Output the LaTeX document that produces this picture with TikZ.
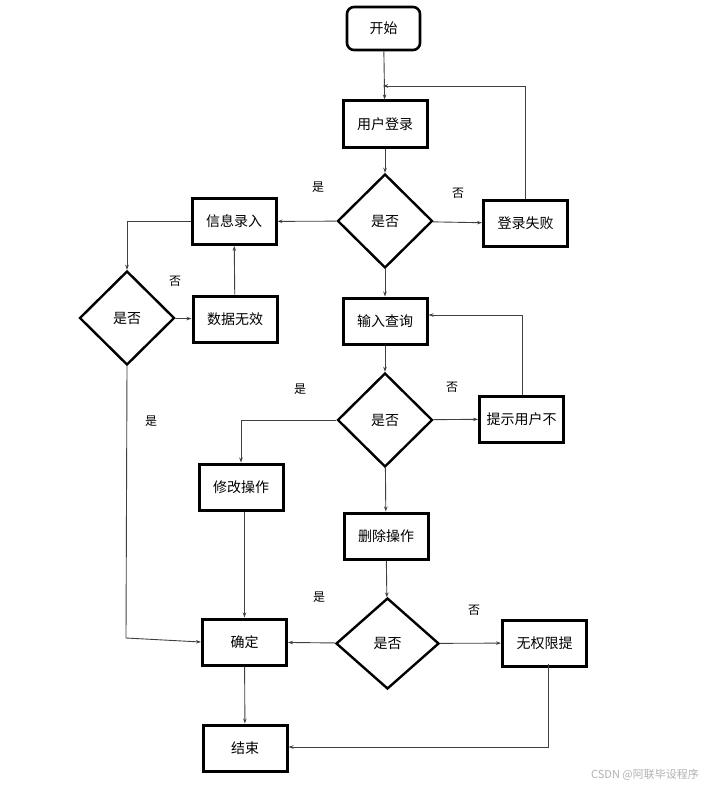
\documentclass[tikz,border=0pt]{standalone}
\usepackage{fontspec}
\newfontfamily\cjk{Noto Sans CJK SC}
\usetikzlibrary{shapes.geometric,arrows.meta}
\begin{document}
\begin{tikzpicture}[x=1pt,y=-1pt,
  every node/.style={font=\cjk\fontsize{14}{16}\selectfont},
  procbox/.style={draw,line width=3pt,minimum width=84pt,minimum height=46pt,inner sep=0pt},
  startbox/.style={draw,line width=2.6pt,rounded corners=7pt,minimum width=73pt,minimum height=43pt},
  decide/.style={draw,line width=2.4pt,diamond,aspect=1,inner sep=0pt,minimum width=95pt,minimum height=94pt},
  conn/.style={draw=black!75,line width=0.9pt,-{Stealth[length=5pt,width=3.5pt]}},
  plain/.style={draw=black!75,line width=0.9pt},
  lab/.style={font=\cjk\fontsize{12}{14}\selectfont}]
\useasboundingbox[fill=white] (0,0) rectangle (719,789);

\node[startbox] (start) at (383.5,28.5) {开始};
\node[procbox] (login) at (385,124) {用户登录};
\node[decide] (d1) at (385,221) {是否};
\node[procbox] (info) at (234,221.5) {信息录入};
\node[procbox] (fail) at (525.5,223.5) {登录失败};
\node[decide] (d2) at (127,318) {是否};
\node[procbox] (invalid) at (235,319) {数据无效};
\node[procbox] (query) at (385,321) {输入查询};
\node[decide] (d3) at (385,420) {是否};
\node[procbox] (hint) at (521.5,419) {提示用户不};
\node[procbox] (modify) at (241,487) {修改操作};
\node[procbox] (delete) at (386,536) {删除操作};
\node[decide,minimum width=103pt,minimum height=91pt] (d4) at (387.5,643.5) {是否};
\node[procbox] (confirm) at (244.5,642) {确定};
\node[procbox] (noperm) at (544.5,643) {无权限提};
\node[procbox] (finish) at (245,748) {结束};

\coordinate (j1) at (383,86);
\coordinate (j2) at (525,86);
\coordinate (q1) at (522,315);
\coordinate (c1) at (127,221.5);
\coordinate (c2) at (126,638);
\coordinate (m1) at (241,420);
\coordinate (e1) at (548,747);

% connectors
\draw[conn] (start) -- (login);
\draw[plain] (fail.north -| j2) -- (j2) ;
\draw[conn] (j2) -- (j1);
\draw[conn] (login) -- (d1);
\draw[conn] (d1) -- (info);
\draw[conn] (d1) -- (fail);
\draw[conn] (info.west) -- (c1) -- (d2.north);
\draw[conn] (d2) -- (invalid);
\draw[conn] (invalid) -- (info);
\draw[conn] (d2.south) -- (c2) -- (confirm.west);
\draw[conn] (d1) -- (query);
\draw[conn] (query) -- (d3);
\draw[conn] (d3) -- (hint);
\draw[conn] (hint.north -| q1) -- (q1) -- (query.east |- q1);
\draw[conn] (d3.west) -- (m1) -- (modify.north);
\draw[conn] (d3) -- (delete);
\draw[conn] (delete) -- (d4);
\draw[conn] (d4) -- (confirm);
\draw[conn] (d4) -- (noperm);
\draw[conn] (modify.south -| confirm) -- (confirm);
\draw[conn] (confirm) -- (finish);
\draw[conn] ([yshift=4pt]noperm.south -| e1) -- (e1) -- (finish.east |- e1);

% labels
\node[lab] (l1) at (318,187) {是};
\node[lab] (l2) at (458,193) {否};
\node[lab] (l3) at (175,281) {否};
\node[lab] (l4) at (151,421) {是};
\node[lab] (l5) at (300,389) {是};
\node[lab] (l6) at (452,387) {否};
\node[lab] (l7) at (319,597) {是};
\node[lab] (l8) at (474,610) {否};

\node[font=\cjk\fontsize{11}{13}\selectfont,text=black!30] (wm) at (645,775) {CSDN @阿联毕设程序};
\end{tikzpicture}
\end{document}
